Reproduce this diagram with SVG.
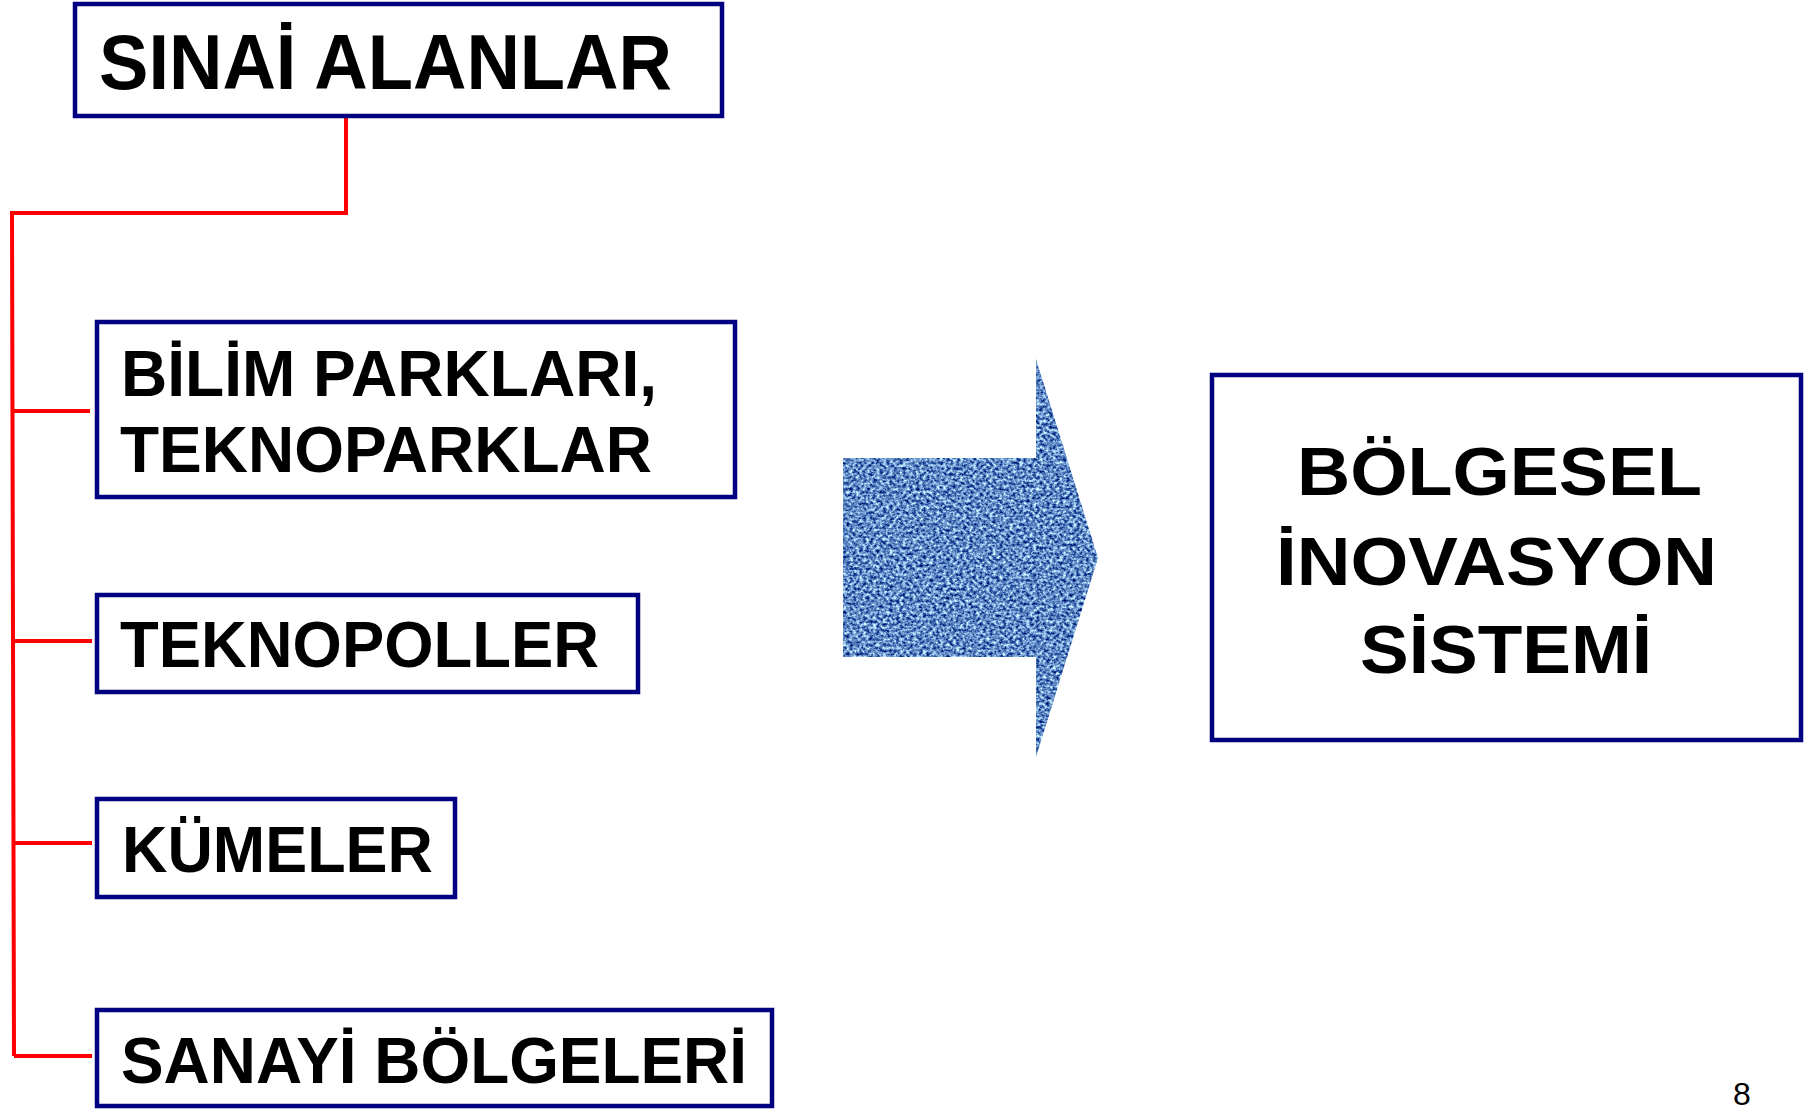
<svg xmlns="http://www.w3.org/2000/svg" width="1816" height="1110" viewBox="0 0 1816 1110">
<style>
.box{fill:#fff;stroke:#000080;stroke-width:4.5}
.t{font-family:"Liberation Sans",Arial,sans-serif;font-weight:bold;fill:#000}
.c{fill:none;stroke:#ff0000;stroke-width:4;stroke-linejoin:miter}
</style>
<defs>
<filter id="tex" x="0" y="0" width="100%" height="100%" color-interpolation-filters="sRGB">
<feTurbulence type="fractalNoise" baseFrequency="0.3 0.34" numOctaves="3" seed="7" result="n"/>
<feColorMatrix in="n" type="matrix" values="1.6 0 0 0 -0.42  1.6 0 0 0 -0.26  1.1 0 0 0 0.22  0 0 0 0 1" result="c"/>
<feComposite in="c" in2="SourceGraphic" operator="in"/>
</filter>
</defs>
<rect width="1816" height="1110" fill="#fff"/>
<g id="connectors">
<polyline class="c" points="346,118 346,213 12,213 14,1056"/>
<line class="c" x1="12" y1="411" x2="90" y2="411"/>
<line class="c" x1="13" y1="641" x2="92" y2="641"/>
<line class="c" x1="13" y1="843" x2="92" y2="843"/>
<line class="c" x1="14" y1="1056" x2="92" y2="1056"/>
</g>
<g id="sinai">
<rect class="box" x="75" y="4" width="647" height="112"/>
<text class="t" x="99" y="89" font-size="78" textLength="573" lengthAdjust="spacingAndGlyphs">SINAİ ALANLAR</text>
</g>
<g id="bilim">
<rect class="box" x="97" y="322" width="638" height="175"/>
<text class="t" x="121" y="396" font-size="65" textLength="536" lengthAdjust="spacingAndGlyphs">BİLİM PARKLARI,</text>
<text class="t" x="120" y="472" font-size="65" textLength="532" lengthAdjust="spacingAndGlyphs">TEKNOPARKLAR</text>
</g>
<g id="teknopoller">
<rect class="box" x="97" y="595" width="541" height="97"/>
<text class="t" x="120" y="667" font-size="64" textLength="479" lengthAdjust="spacingAndGlyphs">TEKNOPOLLER</text>
</g>
<g id="kumeler">
<rect class="box" x="97" y="799" width="358" height="98"/>
<text class="t" x="122" y="872" font-size="64" textLength="311" lengthAdjust="spacingAndGlyphs">KÜMELER</text>
</g>
<g id="sanayi">
<rect class="box" x="97" y="1010" width="675" height="96"/>
<text class="t" x="121" y="1083" font-size="64" textLength="626" lengthAdjust="spacingAndGlyphs">SANAYİ BÖLGELERİ</text>
</g>
<g id="arrow">
<polygon points="843,458 1036,458 1036,359 1098,558 1036,757 1036,657 843,657" fill="#5a7fbf" filter="url(#tex)"/>
</g>
<g id="bolgesel">
<rect class="box" x="1212" y="375" width="589" height="365"/>
<text class="t" x="1297" y="495" font-size="69" textLength="405" lengthAdjust="spacingAndGlyphs">BÖLGESEL</text>
<text class="t" x="1276" y="585" font-size="69" textLength="441" lengthAdjust="spacingAndGlyphs">İNOVASYON</text>
<text class="t" x="1360" y="673" font-size="69" textLength="292" lengthAdjust="spacingAndGlyphs">SİSTEMİ</text>
</g>
<text x="1742" y="1105" font-family="Liberation Sans,Arial,sans-serif" font-size="32" text-anchor="middle" fill="#000">8</text>
</svg>
